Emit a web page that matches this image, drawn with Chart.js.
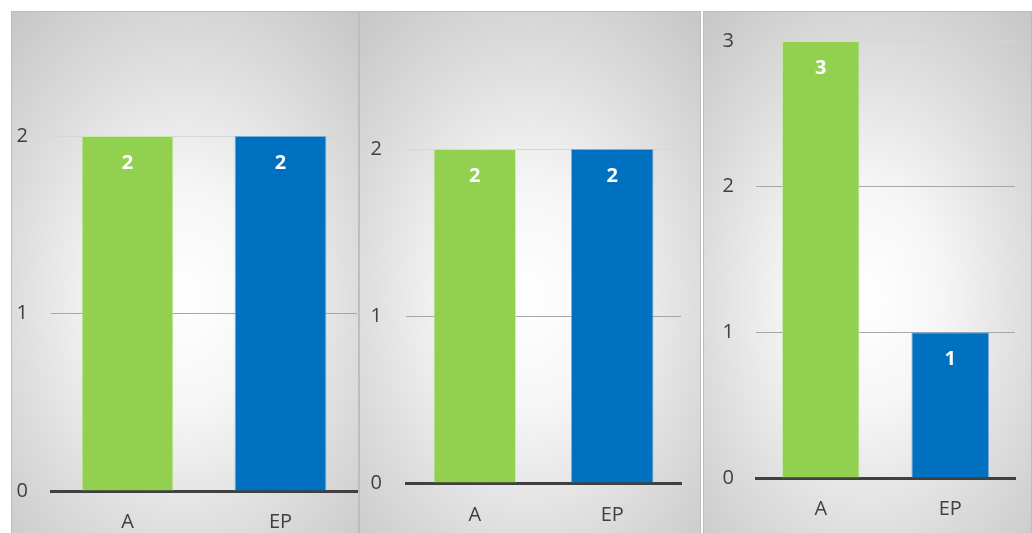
<!DOCTYPE html>
<html>
<head>
<meta charset="utf-8">
<script src="https://cdn.jsdelivr.net/npm/chart.js@4"></script>
<style>
  html, body { margin: 0; padding: 0; background: #ffffff; width: 1032px; height: 533px; overflow: hidden; }
  .panel { position: absolute; box-sizing: border-box; border: 1px solid #bdbdbd; border-bottom: none;
           background: radial-gradient(ellipse 75% 70% at 50% 55%, #ffffff 0%, #f6f6f6 30%, #dedede 65%, #c8c8c8 100%); }
  .panel canvas { position: absolute; left: 0; top: 0; }
</style>
</head>
<body>
<div class="panel" id="p1" style="left:11px; top:11px; width:348px; height:522px;"><canvas id="c1"></canvas></div>
<div class="panel" id="p2" style="left:359px; top:11px; width:342px; height:522px;"><canvas id="c2"></canvas></div>
<div class="panel" id="p3" style="left:703px; top:11px; width:329px; height:522px;"><canvas id="c3"></canvas></div>
<script>
// ---- data ----
const categories = ['A', 'EP'];
const panel1Values = [2, 2];
const panel2Values = [2, 2];
const panel3Values = [3, 1];
const panel1Max = 2;
const panel2Max = 2;
const panel3Max = 3;
const barColors = ['#92d050', '#0070c0'];

const FONT = '"Open Sans", "Noto Sans", sans-serif';

const barLabels = {
  id: 'barLabels',
  afterDatasetsDraw(chart) {
    const ctx = chart.ctx;
    ctx.save();
    ctx.fillStyle = '#ffffff';
    ctx.font = 'bold 20px ' + FONT;
    ctx.textAlign = 'center';
    ctx.textBaseline = 'middle';
    chart.data.datasets.forEach((ds, di) => {
      chart.getDatasetMeta(di).data.forEach((bar, i) => {
        ctx.fillText(String(ds.data[i]), bar.x, bar.y + 27);
      });
    });
    ctx.restore();
  }
};

function makeChart(id, w, h, values, maxV, lay) {
  const cv = document.getElementById(id);
  cv.width = w; cv.height = h;
  cv.style.width = w + 'px'; cv.style.height = h + 'px';
  return new Chart(cv, {
    type: 'bar',
    data: {
      labels: categories,
      datasets: [{
        data: values,
        backgroundColor: barColors,
        borderColor: ['rgba(200,235,170,0.9)', 'rgba(110,170,220,0.9)'],
        borderWidth: 1,
        categoryPercentage: 0.6,
        barPercentage: 1.0
      }]
    },
    options: {
      responsive: false,
      animation: false,
      devicePixelRatio: 1,
      layout: { padding: { left: 0, right: lay.right, top: lay.top, bottom: 0 } },
      plugins: { legend: { display: false }, tooltip: { enabled: false } },
      scales: {
        x: {
          grid: { display: false, drawTicks: false },
          border: { display: true, color: '#404040', width: 3 },
          ticks: { color: '#404040', font: { family: FONT, size: 20 }, padding: lay.xpad },
          afterFit(scale) { scale.height = lay.xh; }
        },
        y: {
          min: 0, max: maxV,
          grid: {
            drawTicks: false,
            lineWidth: 1,
            color(c) {
              if (c.tick.value === 0) return 'rgba(0,0,0,0)';
              if (c.tick.value === maxV) return '#d6d6d6';
              return '#a6a6a6';
            }
          },
          border: { display: false },
          ticks: { stepSize: 1, color: '#404040', font: { family: FONT, size: 20 }, padding: lay.ypad },
          afterFit(scale) { scale.width = lay.yw; scale.paddingTop = 12; scale.paddingBottom = 0; }
        }
      }
    },
    plugins: [barLabels]
  });
}

makeChart('c1', 346, 522, panel1Values, panel1Max, { top: 124, right: 1, yw: 39, ypad: 23, xh: 43, xpad: 19 });
makeChart('c2', 340, 522, panel2Values, panel2Max, { top: 137, right: 19, yw: 46, ypad: 24, xh: 51, xpad: 20 });
makeChart('c3', 327, 522, panel3Values, panel3Max, { top: 29, right: 16, yw: 52, ypad: 22, xh: 56, xpad: 19 });
</script>
</body>
</html>
